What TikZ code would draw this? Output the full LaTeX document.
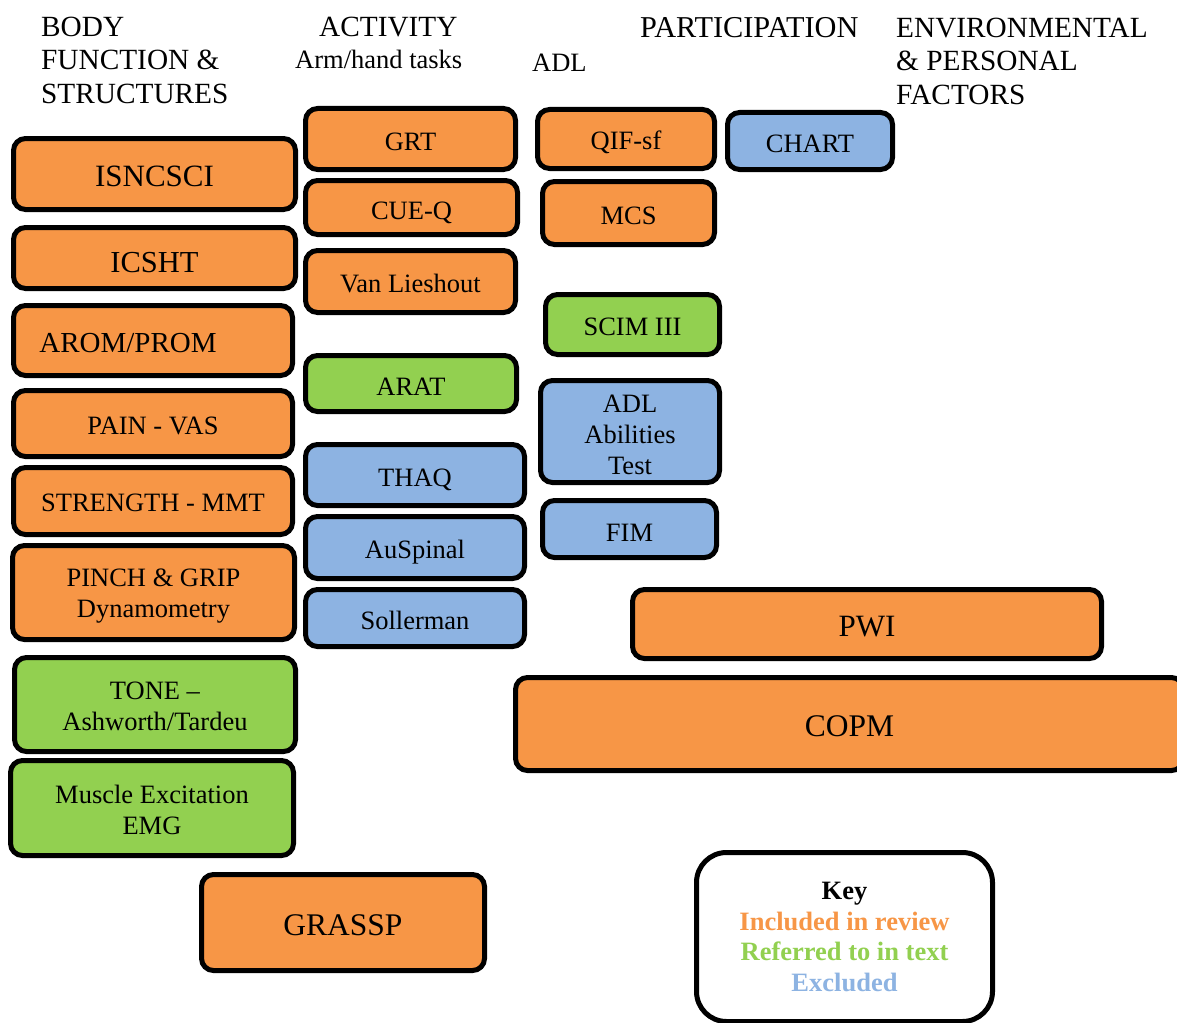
\documentclass[tikz,border=0pt]{standalone}
\usepackage{fontspec}
\setmainfont{Liberation Serif}
\definecolor{orB}{HTML}{F79646}
\definecolor{grB}{HTML}{92D050}
\definecolor{blB}{HTML}{8DB3E2}
\tikzset{
  tbox/.style={draw=black, line width=5pt, rounded corners=12pt, inner sep=0pt},
  btext/.style={align=center, inner sep=0pt, text=black, anchor=center},
  hdr/.style={anchor=base west, inner sep=0pt, font=\fontsize{29.3}{33}\selectfont},
  hdrs/.style={anchor=base west, inner sep=0pt, font=\fontsize{26.5}{31}\selectfont},
}
% name, x1, y1, x2, y2, colour, font size, text, text shift down
\newcommand\mybox[9]{%
  \pgfmathsetmacro\mcx{(#2+#4)/2}%
  \pgfmathsetmacro\mcy{(#3+#5)/2}%
  \pgfmathsetmacro\mw{#4-#2-5}%
  \pgfmathsetmacro\mh{#5-#3-5}%
  \node[tbox, fill=#6, minimum width=\mw pt, minimum height=\mh pt] (#1) at (\mcx,\mcy) {};%
  \node[btext, font={\fontsize{#7}{31}\selectfont}] (#1t) at ([yshift=-#9pt]#1.center) {#8};%
}
\begin{document}
\begin{tikzpicture}[x=1pt, y=-1pt]
\useasboundingbox[fill=white] (0,0) rectangle (1177,1022);

% headers
\node[hdr] (h1a) at (41,37) {BODY};
\node[hdr] (h1b) at (41,70) {FUNCTION \&};
\node[hdr] (h1c) at (41,103) {STRUCTURES};
\node[hdr] (h2a) at (319,37) {ACTIVITY};
\node[hdrs] (h2b) at (295,68.5) {Arm/hand tasks};
\node[hdrs] (h3a) at (532,72) {ADL};
\node[hdr, font=\fontsize{30.3}{33}\selectfont] (h3b) at (640,37.5) {PARTICIPATION};
\node[hdr] (h4a) at (896,37.5) {ENVIRONMENTAL};
\node[hdr] (h4b) at (896,71) {\& PERSONAL};
\node[hdr] (h4c) at (896,105) {FACTORS};

% column 1
\mybox{isn}{11}{136}{298}{212}{orB}{31}{ISNCSCI}{2.5}
\mybox{icsht}{11}{225}{298}{291}{orB}{30.5}{ICSHT}{4.5}
\mybox{arom}{11}{303}{295}{378}{orB}{29}{AROM/PROM\hspace*{50pt}}{2.5}
\mybox{pain}{11}{388}{295}{459}{orB}{26.5}{PAIN - VAS}{2.5}
\mybox{str}{11}{465}{295}{537}{orB}{26.5}{STRENGTH - MMT}{2}
\mybox{pinch}{10}{543}{297}{642}{orB}{26.5}{PINCH \& GRIP\\Dynamometry}{3.5}
\mybox{tone}{12}{655}{298}{754}{grB}{26.5}{TONE --\\Ashworth/Tardeu}{2}
\mybox{emg}{8}{758}{296}{858}{grB}{26.5}{Muscle Excitation\\EMG}{2}
\mybox{grassp}{199}{872}{487}{973}{orB}{31.5}{GRASSP}{2.5}

% column 2
\mybox{grt}{303}{106}{518}{172}{orB}{26.5}{GRT}{2.5}
\mybox{cueq}{303}{178}{520}{237}{orB}{26.5}{CUE-Q}{5}
\mybox{van}{303}{248}{518}{315}{orB}{26.5}{Van Lieshout}{2.5}
\mybox{arat}{303}{353}{519}{414}{grB}{26.5}{ARAT}{3}
\mybox{thaq}{303}{442}{527}{508}{blB}{26.5}{THAQ}{5}
\mybox{ausp}{303}{514}{527}{581}{blB}{26.5}{AuSpinal}{5}
\mybox{soll}{303}{587}{527}{649}{blB}{26.5}{Sollerman}{2.5}

% column 3
\mybox{qif}{535}{107}{717}{171}{orB}{26.5}{QIF-sf}{3.5}
\mybox{mcs}{540}{179}{717}{247}{orB}{26.5}{MCS}{2.5}
\mybox{scim}{543}{292}{722}{357}{grB}{26.5}{SCIM III}{2.5}
\mybox{adlat}{538}{378}{722}{485}{blB}{26.5}{ADL\\Abilities\\Test}{3}
\mybox{fim}{540}{498}{719}{560}{blB}{26.5}{FIM}{3.5}
\mybox{chart}{725}{110}{895}{172}{blB}{26.5}{CHART}{3}

% wide boxes
\mybox{pwi}{630}{587}{1104}{661}{orB}{31}{PWI}{3}
\mybox{copm}{513}{675}{1186}{773}{orB}{31.5}{COPM}{2.5}

% key
\node[draw=black, line width=5pt, rounded corners=30pt, fill=white, align=center, inner sep=0pt,
      minimum width=296pt, minimum height=169pt, font={\fontsize{26.5}{30.7}\selectfont\bfseries}]
  (key) at (844.5,937) {Key\\\textcolor{orB}{Included in review}\\\textcolor{grB}{Referred to in text}\\\textcolor{blB}{Excluded}};
\end{tikzpicture}
\end{document}
